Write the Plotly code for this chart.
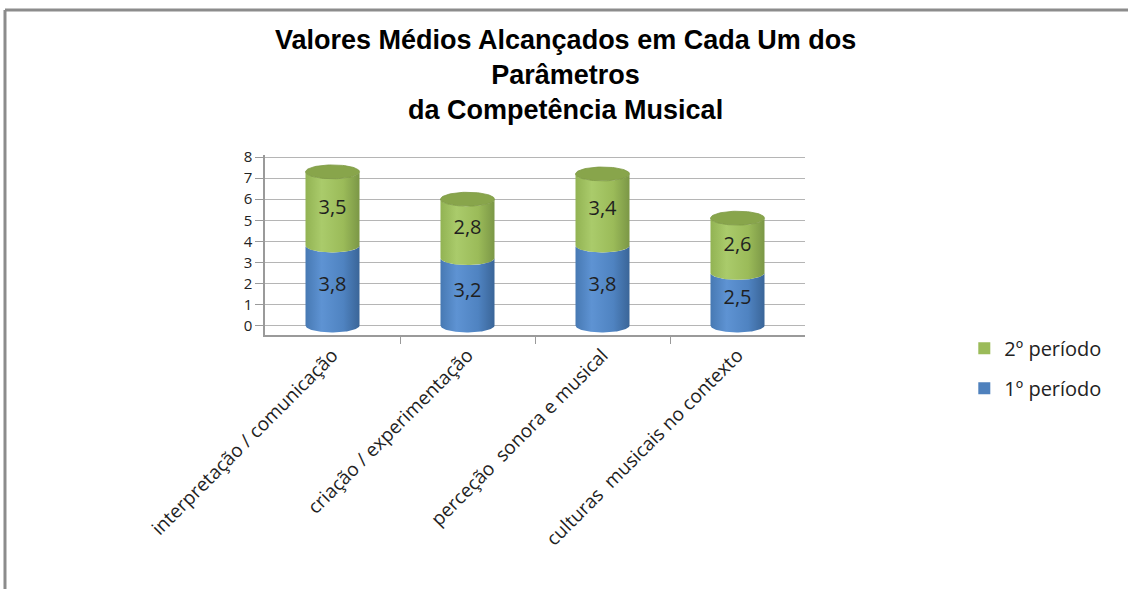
import numpy as np
import plotly.graph_objects as go

# Average scores per musical-competence parameter, by school term
categories = [
    "interpretação / comunicação",
    "criação / experimentação",
    "perceção  sonora e musical",
    "culturas  musicais no contexto",
]
periodo_1 = [3.8, 3.2, 3.8, 2.5]
periodo_2 = [3.5, 2.8, 3.4, 2.6]
series_names = ["1º período", "2º período"]
y_ticks = [0, 1, 2, 3, 4, 5, 6, 7, 8]

# Cylinder geometry (in axis units)
HALF_W = 0.2
RY = 0.33

BLUE_SCALE = [[0, "#4779b3"], [0.3, "#5e93d3"], [0.7, "#4f83c1"], [1, "#3a6598"]]
GREEN_SCALE = [[0, "#92b353"], [0.3, "#aacb6b"], [0.7, "#9bbb59"], [1, "#7b9746"]]
GREEN_TOP = "#88a54b"

fig = go.Figure()

t_low = np.linspace(np.pi, 2 * np.pi, 60)


def cylinder_body(xc, y0, y1, scale):
    # front half of bottom ellipse, right edge, front half of top ellipse back to the left
    xs = np.concatenate([xc + HALF_W * np.cos(t_low), (xc + HALF_W * np.cos(t_low))[::-1]])
    ys = np.concatenate([y0 + RY * np.sin(t_low), (y1 + RY * np.sin(t_low))[::-1]])
    fig.add_trace(go.Scatter(
        x=np.append(xs, xs[0]), y=np.append(ys, ys[0]),
        mode="lines", fill="toself", line=dict(width=0, color="rgba(0,0,0,0)"),
        fillgradient=dict(type="horizontal", colorscale=scale),
        hoverinfo="skip", showlegend=False,
    ))


def cylinder_cap(xc, y, color):
    t = np.linspace(0, 2 * np.pi, 80)
    fig.add_trace(go.Scatter(
        x=xc + HALF_W * np.cos(t), y=y + RY * np.sin(t),
        mode="lines", fill="toself", fillcolor=color,
        line=dict(width=0.8, color="#7d9944"),
        hoverinfo="skip", showlegend=False,
    ))


xpos = list(range(len(categories)))
for i, (a, b) in enumerate(zip(periodo_1, periodo_2)):
    cylinder_body(xpos[i], 0, a, BLUE_SCALE)
    cylinder_body(xpos[i], a, a + b, GREEN_SCALE)
    cylinder_cap(xpos[i], a + b, GREEN_TOP)


def fmt(v):
    return f"{v:.1f}".replace(".", ",")


label_x = xpos + xpos
label_y = [a / 2 for a in periodo_1] + [a + b / 2 for a, b in zip(periodo_1, periodo_2)]
label_t = [fmt(v) for v in periodo_1] + [fmt(v) for v in periodo_2]
fig.add_trace(go.Scatter(
    x=label_x, y=label_y, text=label_t, mode="text",
    textfont=dict(family="Open Sans", size=20, color="#1f1f1f"),
    hoverinfo="skip", showlegend=False,
))

# Legend entries
fig.add_trace(go.Scatter(
    x=[None], y=[None], mode="markers", name=series_names[1], legendgroup="p2",
    marker=dict(symbol="square", size=12, color="#9bbb59"),
))
fig.add_trace(go.Scatter(
    x=[None], y=[None], mode="markers", name=series_names[0], legendgroup="p1",
    marker=dict(symbol="square", size=12, color="#4f81bd"),
))

title_text = "Valores Médios Alcançados em Cada Um dos<br>Parâmetros<br>da Competência Musical"
annotations = [
    dict(text=title_text, x=0.5556, y=1.444, xref="paper", yref="paper",
         xanchor="center", yanchor="middle", showarrow=False,
         font=dict(family="Liberation Sans, Arial", size=27, color="#000000", weight="bold"))
]

border = dict(color="#8c8c8c", width=3)
shapes = [
    dict(type="line", xref="paper", yref="paper", x0=-0.4815, x1=1.6, y0=1.8056, y1=1.8056, line=border),
    dict(type="line", xref="paper", yref="paper", x0=-0.4815, x1=-0.4815, y0=1.8056, y1=-1.42, line=border),
]

fig.update_layout(
    width=1128, height=589,
    margin=dict(l=265, r=323, t=155, b=254),
    paper_bgcolor="white", plot_bgcolor="white",
    annotations=annotations, shapes=shapes,
    legend=dict(
        x=1.295, y=0.035, xanchor="left", yanchor="top",
        traceorder="grouped", tracegroupgap=11,
        font=dict(family="Open Sans", size=20, color="#222222"),
        itemwidth=30,
    ),
    xaxis=dict(
        range=[-0.5, 3.5], tickmode="array", tickvals=xpos, ticktext=categories,
        tickangle=-45, ticks="", showgrid=False, zeroline=False,
        showline=True, linecolor="#9a9a9a", linewidth=1.5,
        tickfont=dict(family="Open Sans", size=19, color="#1f1f1f"),
        minor=dict(tickvals=[0.5, 1.5, 2.5], ticks="outside", ticklen=7, tickcolor="#9a9a9a", showgrid=False),
    ),
    yaxis=dict(
        range=[-0.45, 8.1], tickmode="array", tickvals=y_ticks,
        showgrid=True, gridcolor="#b5b5b5", gridwidth=1, zeroline=False,
        showline=True, linecolor="#9a9a9a", linewidth=1.5,
        ticks="outside", ticklen=8, tickcolor="#9a9a9a",
        tickfont=dict(family="Open Sans", size=15, color="#222222"),
    ),
)

fig.write_html("out.html")
